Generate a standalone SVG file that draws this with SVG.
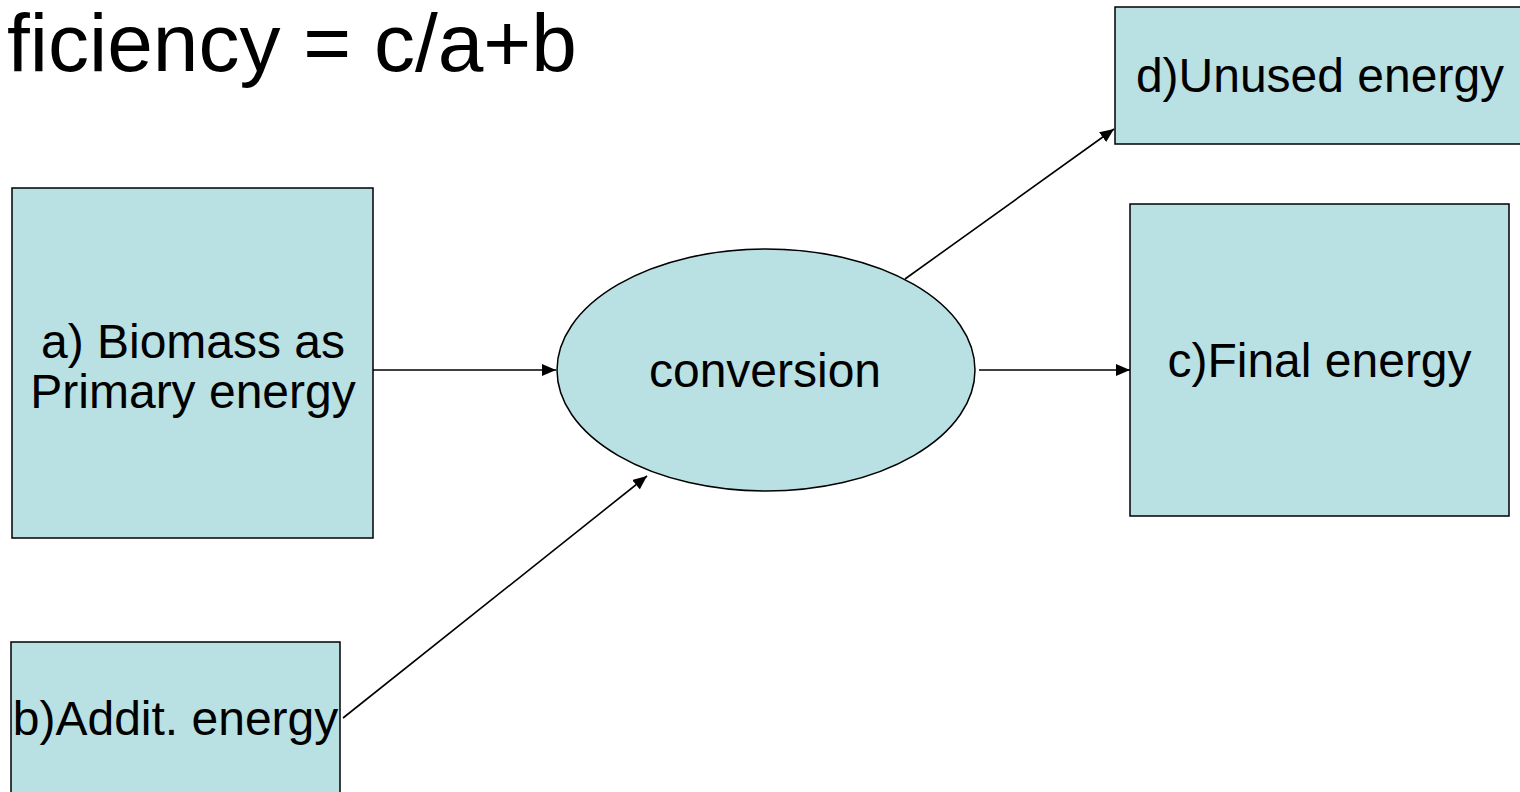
<svg xmlns="http://www.w3.org/2000/svg" width="1520" height="792" viewBox="0 0 1520 792">
<defs>
<style>
.node{fill:#B9E0E3;stroke:#000;stroke-width:1.5}
.lbl{font-family:"Liberation Sans",Arial,sans-serif;font-size:48px;fill:#000;text-anchor:middle}
.title{font-family:"Liberation Sans",Arial,sans-serif;font-size:82px;fill:#000}
.conn{stroke:#000;stroke-width:1.6;fill:none;marker-end:url(#arrow)}
</style>
<marker id="arrow" viewBox="0 0 14 12" refX="14" refY="6" markerWidth="14" markerHeight="12" markerUnits="userSpaceOnUse" orient="auto">
<path d="M0,0 L14,6 L0,12 Z" fill="#000"/>
</marker>
</defs>
<rect width="1520" height="792" fill="#fff"/>
<text class="title" x="7" y="71">ficiency = c/a+b</text>
<g id="node-a">
<rect class="node" x="12" y="188" width="361" height="350"/>
<text class="lbl" x="193" y="358">a) Biomass as</text>
<text class="lbl" x="193" y="408">Primary energy</text>
</g>
<g id="node-b">
<rect class="node" x="11" y="642" width="329" height="170"/>
<text class="lbl" x="175.5" y="735">b)Addit. energy</text>
</g>
<g id="node-conversion">
<ellipse class="node" cx="766" cy="370" rx="209" ry="121"/>
<text class="lbl" x="765" y="387">conversion</text>
</g>
<g id="node-c">
<rect class="node" x="1130" y="204" width="379" height="312"/>
<text class="lbl" x="1319.5" y="377">c)Final energy</text>
</g>
<g id="node-d">
<rect class="node" x="1115" y="7" width="412" height="137"/>
<text class="lbl" x="1320" y="92">d)Unused energy</text>
</g>
<g id="connectors">
<line class="conn" x1="373" y1="370" x2="556" y2="370"/>
<line class="conn" x1="979" y1="370" x2="1130" y2="370"/>
<line class="conn" x1="343" y1="718" x2="647" y2="476"/>
<line class="conn" x1="905" y1="279" x2="1114" y2="129"/>
</g>
</svg>
